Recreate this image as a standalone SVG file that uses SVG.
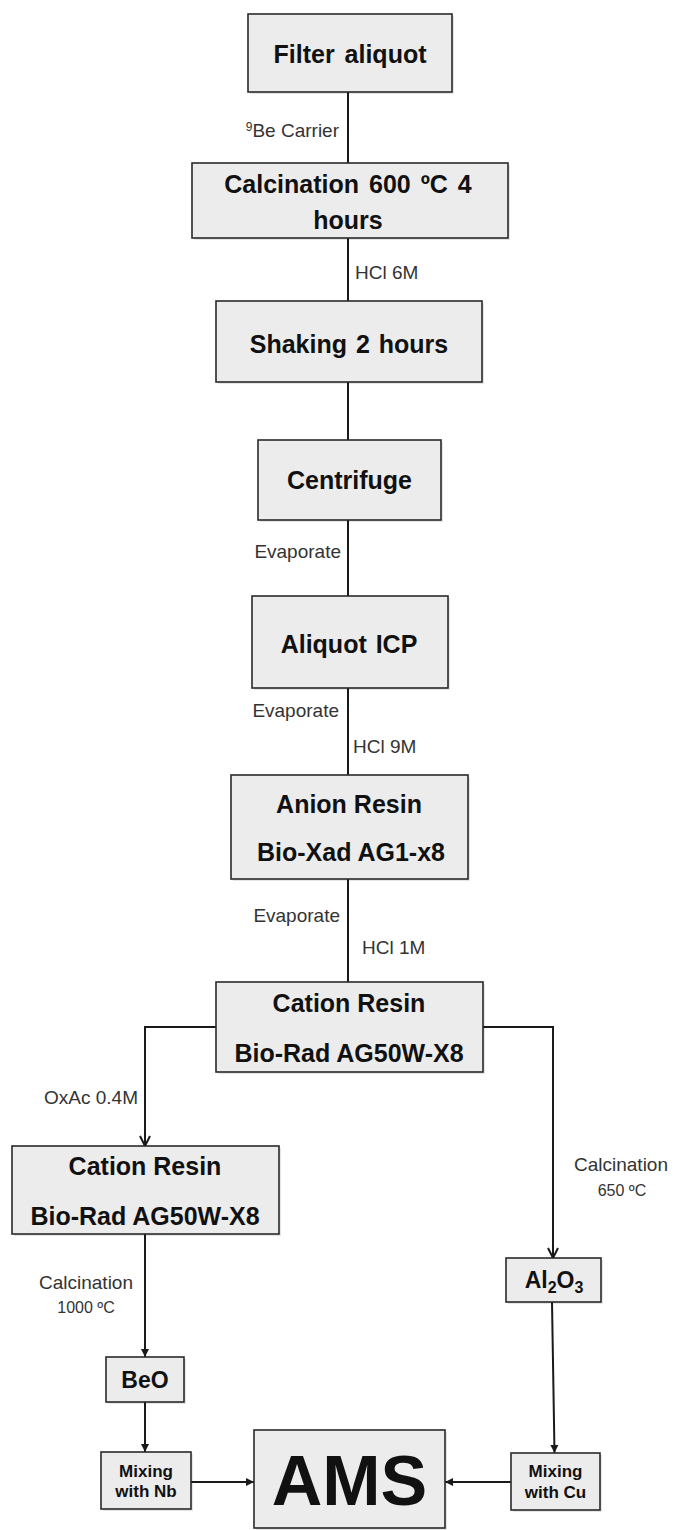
<svg xmlns="http://www.w3.org/2000/svg" width="674" height="1530" viewBox="0 0 674 1530">
<style>
.box{fill:#ececec;stroke:#2a2a2a;stroke-width:1.6}
.sh{fill:#000;opacity:.10}
.t{font-family:"Liberation Sans",Arial,sans-serif;font-weight:bold;font-size:25px;fill:#111;text-anchor:middle}
.ts{font-family:"Liberation Sans",Arial,sans-serif;font-weight:bold;font-size:17px;fill:#111;text-anchor:middle}
.lb{font-family:"Liberation Sans",Arial,sans-serif;font-size:19px;fill:#333}
.lbs{font-family:"Liberation Sans",Arial,sans-serif;font-size:16px;fill:#333;text-anchor:middle}
.ln{stroke:#1a1a1a;stroke-width:2;fill:none}
</style>
<defs>
<marker id="open" markerUnits="userSpaceOnUse" viewBox="0 0 12 12" refX="11" refY="6" markerWidth="12" markerHeight="12" orient="auto">
<path d="M1,1 L11,6 L1,11" fill="none" stroke="#1a1a1a" stroke-width="2"/>
</marker>
<marker id="fill" markerUnits="userSpaceOnUse" viewBox="0 0 10 10" refX="9" refY="5" markerWidth="9" markerHeight="9" orient="auto">
<path d="M0,0.5 L9,5 L0,9.5 Z" fill="#1a1a1a"/>
</marker>
</defs>

<g id="connectors">
<line class="ln" x1="348" y1="92" x2="348" y2="163"/>
<line class="ln" x1="348" y1="238" x2="348" y2="301"/>
<line class="ln" x1="348" y1="382" x2="348" y2="440"/>
<line class="ln" x1="348" y1="520" x2="348" y2="596"/>
<line class="ln" x1="348" y1="688" x2="348" y2="775"/>
<line class="ln" x1="348" y1="879" x2="348" y2="982"/>
<polyline class="ln" points="216,1027 145,1027 145,1146" marker-end="url(#open)"/>
<polyline class="ln" points="483,1027 553,1027 553,1258" marker-end="url(#open)"/>
<line class="ln" x1="145" y1="1234" x2="145" y2="1357" marker-end="url(#fill)"/>
<line class="ln" x1="145" y1="1402" x2="145" y2="1452" marker-end="url(#fill)"/>
<line class="ln" x1="191" y1="1482" x2="254" y2="1482" marker-end="url(#fill)"/>
<line class="ln" x1="552" y1="1302" x2="554.5" y2="1453" marker-end="url(#fill)"/>
<line class="ln" x1="511" y1="1482" x2="445" y2="1482" marker-end="url(#fill)"/>
</g>

<g id="labels">
<text class="lb" x="339" y="137" text-anchor="end"><tspan font-size="12" dy="-6">9</tspan><tspan dy="6">Be Carrier</tspan></text>
<text class="lb" x="355" y="279">HCl 6M</text>
<text class="lb" x="341" y="558" text-anchor="end">Evaporate</text>
<text class="lb" x="339" y="717" text-anchor="end">Evaporate</text>
<text class="lb" x="353" y="753">HCl 9M</text>
<text class="lb" x="340" y="922" text-anchor="end">Evaporate</text>
<text class="lb" x="362" y="954">HCl 1M</text>
<text class="lb" x="138" y="1104" text-anchor="end">OxAc 0.4M</text>
<text class="lb" x="621" y="1171" text-anchor="middle">Calcination</text>
<text class="lbs" x="622" y="1196">650 ºC</text>
<text class="lb" x="86" y="1289" text-anchor="middle">Calcination</text>
<text class="lbs" x="86" y="1313">1000 ºC</text>
</g>

<g id="filter">
<rect class="sh" x="250" y="16" width="204" height="78"/>
<rect class="box" x="248" y="14" width="204" height="78"/>
<text class="t" x="350" y="63" word-spacing="3">Filter aliquot</text>
</g>
<g id="calcination600">
<rect class="sh" x="194" y="165" width="316" height="75"/>
<rect class="box" x="192" y="163" width="316" height="75"/>
<text class="t" x="348" y="193" word-spacing="3">Calcination 600 ºC 4</text>
<text class="t" x="348" y="229">hours</text>
</g>
<g id="shaking">
<rect class="sh" x="218" y="303" width="266" height="81"/>
<rect class="box" x="216" y="301" width="266" height="81"/>
<text class="t" x="349" y="353" word-spacing="2">Shaking 2 hours</text>
</g>
<g id="centrifuge">
<rect class="sh" x="260" y="442" width="183" height="80"/>
<rect class="box" x="258" y="440" width="183" height="80"/>
<text class="t" x="349.5" y="489">Centrifuge</text>
</g>
<g id="aliquotICP">
<rect class="sh" x="254" y="598" width="196" height="92"/>
<rect class="box" x="252" y="596" width="196" height="92"/>
<text class="t" x="349" y="653" word-spacing="2">Aliquot ICP</text>
</g>
<g id="anion">
<rect class="sh" x="233" y="777" width="237" height="104"/>
<rect class="box" x="231" y="775" width="237" height="104"/>
<text class="t" x="349" y="813">Anion Resin</text>
<text class="t" x="351" y="861">Bio-Xad AG1-x8</text>
</g>
<g id="cation1">
<rect class="sh" x="218" y="984" width="267" height="90"/>
<rect class="box" x="216" y="982" width="267" height="90"/>
<text class="t" x="349" y="1012">Cation Resin</text>
<text class="t" x="349" y="1062">Bio-Rad AG50W-X8</text>
</g>
<g id="cation2">
<rect class="sh" x="14" y="1148" width="267" height="88"/>
<rect class="box" x="12" y="1146" width="267" height="88"/>
<text class="t" x="145" y="1175">Cation Resin</text>
<text class="t" x="145" y="1225">Bio-Rad AG50W-X8</text>
</g>
<g id="al2o3">
<rect class="sh" x="508" y="1260" width="95" height="44"/>
<rect class="box" x="506" y="1258" width="95" height="44"/>
<text class="t" x="554" y="1288" style="font-size:23px">Al<tspan style="font-size:16px" dy="5">2</tspan><tspan dy="-5">O</tspan><tspan style="font-size:16px" dy="5">3</tspan></text>
</g>
<g id="beo">
<rect class="sh" x="108" y="1359" width="78" height="45"/>
<rect class="box" x="106" y="1357" width="78" height="45"/>
<text class="t" x="145" y="1388" style="font-size:23px">BeO</text>
</g>
<g id="mixNb">
<rect class="sh" x="103" y="1454" width="90" height="57"/>
<rect class="box" x="101" y="1452" width="90" height="57"/>
<text class="ts" x="146" y="1477">Mixing</text>
<text class="ts" x="146" y="1497">with Nb</text>
</g>
<g id="ams">
<rect class="sh" x="256" y="1432" width="191" height="98"/>
<rect class="box" x="254" y="1430" width="191" height="98"/>
<text class="t" x="349.5" y="1505" style="font-size:70px">AMS</text>
</g>
<g id="mixCu">
<rect class="sh" x="513" y="1455" width="89" height="57"/>
<rect class="box" x="511" y="1453" width="89" height="57"/>
<text class="ts" x="555.5" y="1477">Mixing</text>
<text class="ts" x="555.5" y="1498">with Cu</text>
</g>
</svg>
